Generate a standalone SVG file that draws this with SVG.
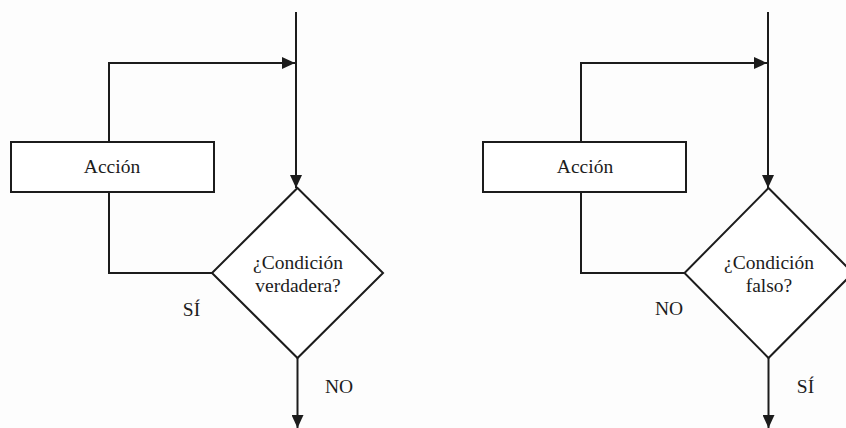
<svg xmlns="http://www.w3.org/2000/svg" width="846" height="428" viewBox="0 0 846 428">
<style>
.s{fill:none;stroke:#1c1c1c;stroke-width:2}
.b{fill:#fff;stroke:#1c1c1c;stroke-width:2}
text{font-family:"Liberation Serif","Times New Roman",serif;font-size:19.5px;fill:#1c1c1c;text-anchor:middle}
</style>
<defs>
<marker id="ah" viewBox="0 0 13 12" refX="13" refY="6" markerWidth="13" markerHeight="12" markerUnits="userSpaceOnUse" orient="auto">
<path d="M0,0 L13,6 L0,12 Z" fill="#1c1c1c"/>
</marker>
</defs>
<rect width="846" height="428" fill="#fdfdfd"/>
<g id="connectors">
<path class="s" d="M296,12 V188" marker-end="url(#ah)"/>
<path class="s" d="M109,142 V63 H295" marker-end="url(#ah)"/>
<path class="s" d="M109,192 V273 H212"/>
<path class="s" d="M297.5,358 V428" marker-end="url(#ah)"/>
<path class="s" d="M768,12 V188" marker-end="url(#ah)"/>
<path class="s" d="M581,142 V63 H767" marker-end="url(#ah)"/>
<path class="s" d="M581,192 V273 H684.5"/>
<path class="s" d="M768.5,358 V428" marker-end="url(#ah)"/>
</g>
<g id="accion1">
<rect class="b" x="11" y="142" width="203" height="50"/>
<text x="112" y="173">Acción</text>
</g>
<g id="cond1">
<path class="b" d="M297.5,188 L383,273 L297.5,358 L212,273 Z"/>
<text x="298" y="269">¿Condición</text>
<text x="298" y="292">verdadera?</text>
</g>
<g id="accion2">
<rect class="b" x="483" y="142" width="203" height="50"/>
<text x="585" y="173">Acción</text>
</g>
<g id="cond2">
<path class="b" d="M768.5,188 L853,273 L768.5,358 L684.5,273 Z"/>
<text x="769" y="269">¿Condición</text>
<text x="769" y="292">falso?</text>
</g>
<g id="labels">
<text x="191.5" y="316">SÍ</text>
<text x="339" y="393">NO</text>
<text x="669" y="315">NO</text>
<text x="805.5" y="393">SÍ</text>
</g>
</svg>
